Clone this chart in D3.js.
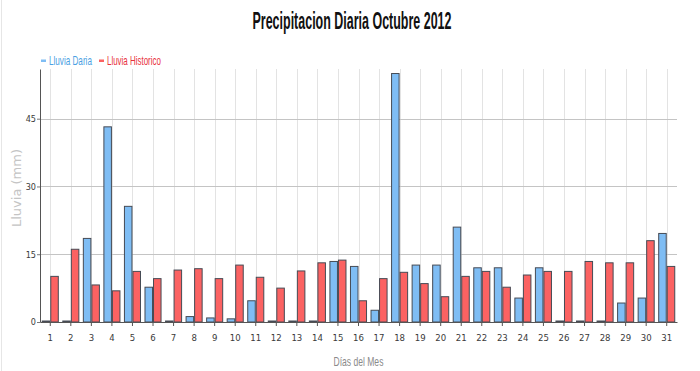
<!DOCTYPE html>
<html>
<head>
<meta charset="utf-8">
<script src="https://cdn.jsdelivr.net/npm/d3@7"></script>
<style>
  body { margin: 0; background: #fff; }
  svg { display: block; }
  .tick text { font-family: "DejaVu Sans Condensed", "Liberation Sans Narrow", sans-serif; }
</style>
</head>
<body>
<div id="chart"></div>
<script>
// datos
var dias = ["1","2","3","4","5","6","7","8","9","10","11","12","13","14","15","16",
            "17","18","19","20","21","22","23","24","25","26","27","28","29","30","31"];
var lluviaDiaria = [0, 0, 18.5, 43.2, 25.6, 7.7, 0, 1.2, 0.9, 0.7, 4.7, 0, 0, 0, 13.4, 12.3,
                    2.6, 55.0, 12.6, 12.6, 21.0, 12.0, 12.0, 5.3, 12.0, 0, 0, 0, 4.2, 5.3, 19.6];
var lluviaHistorico = [10.1, 16.1, 8.2, 6.9, 11.2, 9.6, 11.5, 11.8, 9.6, 12.6, 9.9, 7.5, 11.3, 13.1, 13.7, 4.7,
                       9.6, 11.0, 8.5, 5.6, 10.1, 11.2, 7.7, 10.4, 11.2, 11.2, 13.4, 13.1, 13.1, 18.0, 12.3];
var series = ["Lluvia Daria", "Lluvia Historico"];
var yTicks = [0, 15, 30, 45];

var width = 700, height = 371;
var colores = { fill: ["#7fbdf4", "#fb6262"], text: ["#4b9fe3", "#e8323c"] };

var svg = d3.select("#chart").append("svg")
    .attr("width", width)
    .attr("height", height);

// borde izquierdo claro
svg.append("line")
    .attr("x1", 1.5).attr("x2", 1.5).attr("y1", 0).attr("y2", height)
    .attr("stroke", "#e6e6e6");

var pLeft = 40, pRight = 677, pTop = 69, pBottom = 322;

var x = d3.scaleBand().domain(dias).range([pLeft, pRight])
    .paddingInner(0.17).paddingOuter(0.085);
var xs = d3.scaleBand().domain(series).range([0, x.bandwidth()]);
var y = d3.scaleLinear().domain([0, 56]).range([pBottom, pTop]);

// lineas de fondo
svg.append("g").selectAll("line")
    .data(dias)
    .enter().append("line")
    .attr("x1", function (d) { return Math.round(x(d) + x.bandwidth() / 2) + 0.5; })
    .attr("x2", function (d) { return Math.round(x(d) + x.bandwidth() / 2) + 0.5; })
    .attr("y1", pTop).attr("y2", pBottom)
    .attr("stroke", "#e3e3e3");

svg.append("g").selectAll("line")
    .data(yTicks.filter(function (d) { return d > 0; }))
    .enter().append("line")
    .attr("x1", pLeft).attr("x2", pRight)
    .attr("y1", function (d) { return Math.round(y(d)) + 0.5; })
    .attr("y2", function (d) { return Math.round(y(d)) + 0.5; })
    .attr("stroke", "#c4c4c4");

// barras
var filas = dias.map(function (d, i) { return { dia: d, valores: [lluviaDiaria[i], lluviaHistorico[i]] }; });
var grupos = svg.append("g").selectAll("g")
    .data(filas)
    .enter().append("g")
    .attr("transform", function (d) { return "translate(" + x(d.dia) + ",0)"; });

grupos.selectAll("rect")
    .data(function (d) { return d.valores.map(function (v, k) { return { s: series[k], k: k, v: v }; }); })
    .enter().append("rect")
    .attr("x", function (d) { return xs(d.s) + 0.5; })
    .attr("width", xs.bandwidth() - 1)
    .attr("y", function (d) { return Math.min(y(d.v), pBottom - 1); })
    .attr("height", function (d) { return Math.max(pBottom - y(d.v), 1); })
    .attr("fill", function (d) { return colores.fill[d.k]; })
    .attr("stroke", "#464b55")
    .attr("stroke-width", 1);

// ejes
var xAxis = svg.append("g")
    .attr("transform", "translate(0," + pBottom + ")")
    .call(d3.axisBottom(x).tickSize(4).tickSizeOuter(0));
xAxis.select(".domain").attr("stroke", "#555");
xAxis.selectAll(".tick line").attr("stroke", "#555");
xAxis.selectAll(".tick text").attr("font-size", 9.5).attr("fill", "#3a3a3a").attr("dy", "1.25em");

var yAxis = svg.append("g")
    .attr("transform", "translate(" + pLeft + ",0)")
    .call(d3.axisLeft(y).tickValues(yTicks).tickSize(3).tickSizeOuter(0));
yAxis.select(".domain").attr("stroke", "#555");
yAxis.selectAll(".tick line").attr("stroke", "#777");
yAxis.selectAll(".tick text").attr("font-size", 9).attr("fill", "#3a3a3a").attr("x", -4);

// texto comprimido a lo ancho (la fuente original es muy estrecha)
var textoEstrecho = function (sel, x0, y0, ancho, anchor) {
    var w = sel.node().getComputedTextLength();
    var k = ancho / w;
    var dx = anchor === "middle" ? -ancho / 2 : 0;
    sel.attr("transform", "translate(" + (x0 + dx) + "," + y0 + ") scale(" + k + ",1)");
};

// titulos
var titulo = svg.append("text")
    .attr("font-family", "Liberation Sans, Arial, sans-serif")
    .attr("font-weight", "bold")
    .attr("font-size", 23)
    .attr("fill", "#111")
    .text("Precipitacion Diaria Octubre 2012");
textoEstrecho(titulo, 352, 29, 199, "middle");

var xTitulo = svg.append("text")
    .attr("font-family", "Liberation Sans, Arial, sans-serif")
    .attr("font-size", 12)
    .attr("fill", "#8a8a8a")
    .text("Días del Mes");
textoEstrecho(xTitulo, (pLeft + pRight) / 2, 366, 50, "middle");

svg.append("text")
    .attr("transform", "translate(21,188) rotate(-90)")
    .attr("text-anchor", "middle")
    .attr("font-family", "DejaVu Sans, Verdana, sans-serif")
    .attr("font-size", 13)
    .attr("fill", "#c4c4c4")
    .text("Lluvia (mm)");

// leyenda
var leyenda = [
    { nombre: series[0], x: 41, ancho: 43 },
    { nombre: series[1], x: 99, ancho: 54 }
];
leyenda.forEach(function (d, i) {
    svg.append("rect")
        .attr("x", d.x).attr("y", 59.5).attr("width", 5).attr("height", 2.5)
        .attr("fill", colores.fill[i]);
    var t = svg.append("text")
        .attr("font-family", "Liberation Sans, Arial, sans-serif")
        .attr("font-size", 12.5)
        .attr("fill", colores.text[i])
        .text(d.nombre);
    textoEstrecho(t, d.x + 8, 65, d.ancho, "start");
});
</script>
</body>
</html>
